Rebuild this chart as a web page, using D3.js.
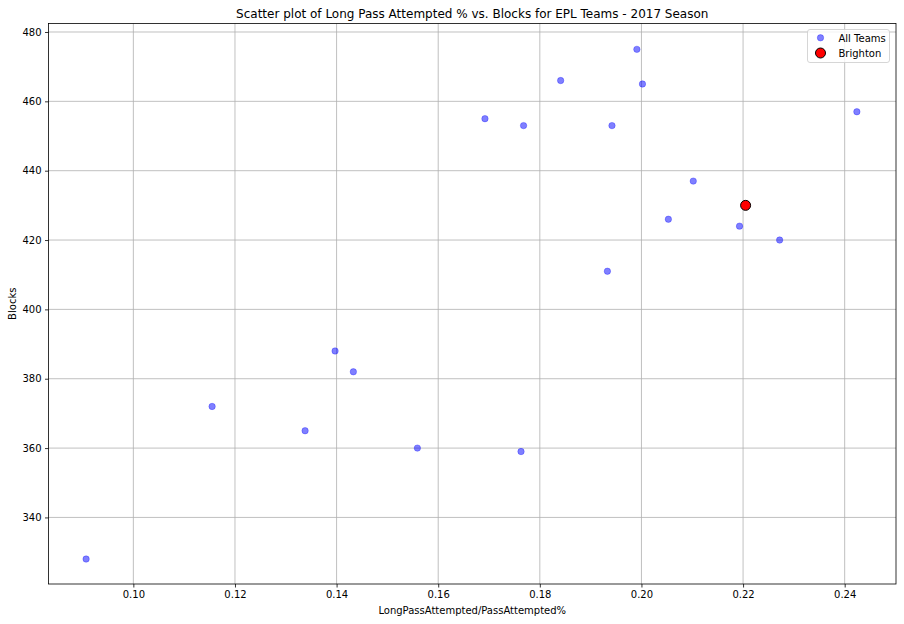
<!DOCTYPE html>
<html>
<head>
<meta charset="utf-8">
<script src="https://cdn.jsdelivr.net/npm/d3@7"></script>
<style>
  html, body { margin: 0; padding: 0; background: #fff; }
  svg { display: block; font-family: "DejaVu Sans", sans-serif; }
</style>
</head>
<body>
<svg id="chart" width="904" height="624"></svg>
<script>
// ---- data ----
const teamLongPassPct = [0.0907, 0.1155, 0.1338, 0.1397, 0.1433, 0.1559, 0.1763, 0.1692, 0.1768,
                         0.1841, 0.1942, 0.1991, 0.2002, 0.2102, 0.2053, 0.2193, 0.2272, 0.1933,
                         0.2424, 0.2205];
const teamBlocks = [328, 372, 365, 388, 382, 360, 359, 455, 453,
                    466, 453, 475, 465, 437, 426, 424, 420, 411,
                    457, 430];
const highlightLongPassPct = [0.2205];
const highlightBlocks = [430];
const xTicks = [0.10, 0.12, 0.14, 0.16, 0.18, 0.20, 0.22, 0.24];
const yTicks = [340, 360, 380, 400, 420, 440, 460, 480];
const legendLabels = ["All Teams", "Brighton"];
const titleText = "Scatter plot of Long Pass Attempted % vs. Blocks for EPL Teams - 2017 Season";
const xLabelText = "LongPassAttempted/PassAttempted%";
const yLabelText = "Blocks";

// ---- layout ----
const svg = d3.select("#chart");
const L = 48.5, R = 896, T = 23.5, B = 584;

const x = d3.scaleLinear().domain([0.0833, 0.2501]).range([L, R]);
const y = d3.scaleLinear().domain([320.8, 482.45]).range([B, T]);

// grid
const grid = svg.append("g");
grid.selectAll("line.gx").data(xTicks).join("line")
  .attr("x1", d => x(d)).attr("x2", d => x(d)).attr("y1", T).attr("y2", B)
  .attr("stroke", "#b0b0b0").attr("stroke-width", 0.8);
grid.selectAll("line.gy").data(yTicks).join("line")
  .attr("y1", d => y(d)).attr("y2", d => y(d)).attr("x1", L).attr("x2", R)
  .attr("stroke", "#b0b0b0").attr("stroke-width", 0.8);

// axes
const xAxis = d3.axisBottom(x).tickValues(xTicks).tickFormat(d3.format(".2f")).tickSize(3.5).tickPadding(3.5);
const yAxis = d3.axisLeft(y).tickValues(yTicks).tickFormat(d3.format("d")).tickSize(3.5).tickPadding(3.5);

const gx = svg.append("g").attr("transform", `translate(0,${B})`).call(xAxis);
const gy = svg.append("g").attr("transform", `translate(${L},0)`).call(yAxis);
[gx, gy].forEach(g => {
  g.select(".domain").remove();
  g.selectAll(".tick line").attr("stroke", "#000").attr("stroke-width", 0.8);
  g.selectAll(".tick text").attr("fill", "#000").style("font-size", "10px")
    .style("font-family", "'DejaVu Sans', sans-serif");
});

// points
svg.append("g").selectAll("circle").data(teamBlocks).join("circle")
  .attr("cx", (d, i) => x(teamLongPassPct[i]))
  .attr("cy", d => y(d))
  .attr("r", 3.2)
  .attr("fill", "blue").attr("fill-opacity", 0.5)
  .attr("stroke", "blue").attr("stroke-opacity", 0.5).attr("stroke-width", 0.6);

svg.append("g").selectAll("circle").data(highlightBlocks).join("circle")
  .attr("cx", (d, i) => x(highlightLongPassPct[i]))
  .attr("cy", d => y(d))
  .attr("r", 5)
  .attr("fill", "red")
  .attr("stroke", "#000").attr("stroke-width", 1);

// frame
svg.append("rect").attr("x", L).attr("y", T).attr("width", R - L).attr("height", B - T)
  .attr("fill", "none").attr("stroke", "#000").attr("stroke-width", 0.8);

// title & labels
svg.append("text").attr("x", (L + R) / 2).attr("y", 17.5).attr("text-anchor", "middle")
  .style("font-size", "12px").text(titleText);
svg.append("text").attr("x", (L + R) / 2).attr("y", 614).attr("text-anchor", "middle")
  .style("font-size", "10px").text(xLabelText);
svg.append("text").attr("transform", `translate(15.5,${(T + B) / 2}) rotate(-90)`).attr("text-anchor", "middle")
  .style("font-size", "10px").text(yLabelText);

// legend
const lg = svg.append("g");
lg.append("rect").attr("x", 807.5).attr("y", 29.5).attr("width", 82).attr("height", 33)
  .attr("rx", 2.5).attr("fill", "#fff").attr("fill-opacity", 0.8)
  .attr("stroke", "#cccccc").attr("stroke-width", 0.8);
lg.append("circle").attr("cx", 820.5).attr("cy", 37.8).attr("r", 3.2)
  .attr("fill", "blue").attr("fill-opacity", 0.5)
  .attr("stroke", "blue").attr("stroke-opacity", 0.5).attr("stroke-width", 0.6);
lg.append("circle").attr("cx", 820.5).attr("cy", 53).attr("r", 5)
  .attr("fill", "red").attr("stroke", "#000").attr("stroke-width", 1);
lg.selectAll("text").data(legendLabels).join("text")
  .attr("x", 838.5).attr("y", (d, i) => 41.5 + i * 15)
  .style("font-size", "10px").text(d => d);
</script>
</body>
</html>
